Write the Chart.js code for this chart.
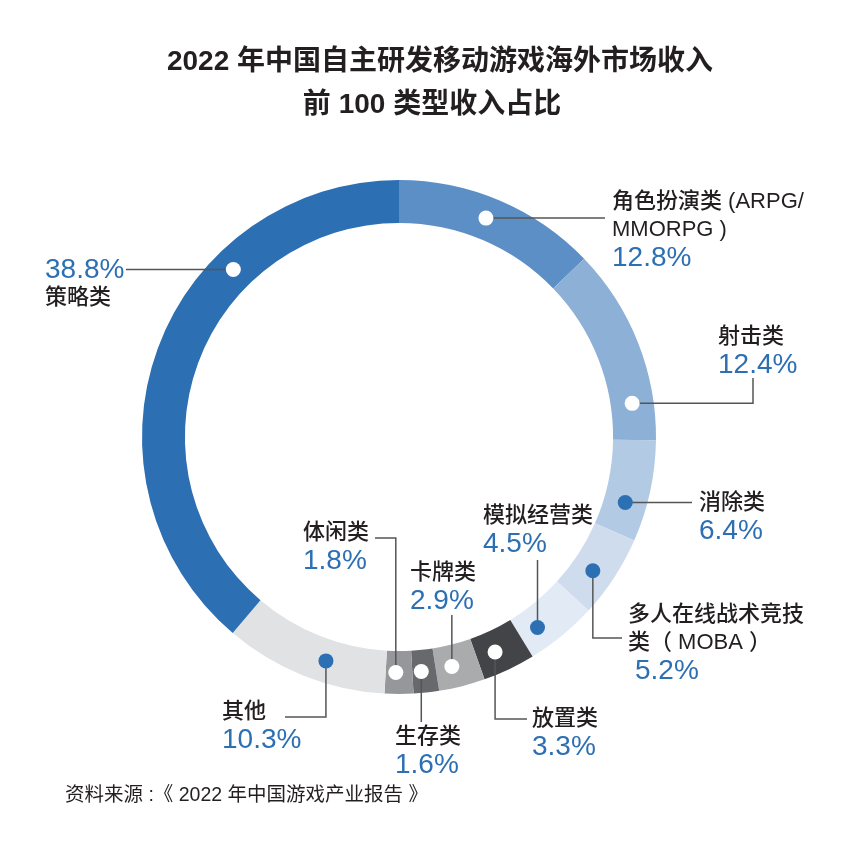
<!DOCTYPE html>
<html>
<head>
<meta charset="utf-8">
<script src="https://cdn.jsdelivr.net/npm/chart.js@4.4.1/dist/chart.umd.min.js"></script>
<style>
html,body{margin:0;padding:0;background:#fff;}
canvas{display:block;}
</style>
</head>
<body>
<canvas id="share_chart" width="849" height="852"></canvas>
<script>
// data
var categories = ['角色扮演类（ARPG/MMORPG）','射击类','消除类','多人在线战术竞技类（MOBA）','模拟经营类','放置类','卡牌类','生存类','体闲类','其他','策略类'];
var shares = [12.8, 12.4, 6.4, 5.2, 4.5, 3.3, 2.9, 1.6, 1.8, 10.3, 38.8];
var nameLines = [['角色扮演类 (ARPG/','MMORPG )'],['射击类'],['消除类'],['多人在线战术竞技','类（ MOBA ）'],['模拟经营类'],['放置类'],['卡牌类'],['生存类'],['体闲类'],['其他'],['策略类']];
var titleLines = ['2022 年中国自主研发移动游戏海外市场收入','前 100 类型收入占比'];
var sourceText = '资料来源 :《 2022 年中国游戏产业报告 》';

// styles
var segColors = ['#5b8fc5','#8cb0d6','#b2cae3','#cfdcee','#e2eaf5','#434447','#aaabad','#68696c','#96979a','#e1e2e4','#2d6fb3'];
var dotColors = ['#fff','#fff','#2d6fb3','#2d6fb3','#2d6fb3','#fff','#fff','#fff','#fff','#2d6fb3','#fff'];
var blue = '#2d6fb3', ink = '#231f20';
var cjk = '"Liberation Sans","Noto Sans CJK SC",sans-serif';

// callout layout: at = position along the arc (0..1), leader route, label anchor
var callouts = [
    {at:0.47, path:'h',  x:605, lx:612, ly:202},
    {at:0.80, path:'hv', x:753, y:378, lx:718, ly:337},
    {at:0.67, path:'h',  x:692, lx:699, ly:503},
    {at:0.58, path:'vh', x:622, y:638, lx:628, ly:615, indent:7},
    {at:0.71, path:'v',  y:560, lx:483, ly:516},
    {at:0.61, path:'vh', x:527, y:719, lx:532, ly:719},
    {at:0.62, path:'v',  y:615, lx:410, ly:573},
    {at:0.62, path:'v',  y:722, lx:395, ly:737},
    {at:0.62, path:'vh', x:375, y:538, lx:303, ly:533},
    {at:0.40, path:'vh', x:285, y:717, lx:222, ly:712},
    {at:0.68, path:'h',  x:126, lx:45, ly:270, pctFirst:true}
];

var calloutPlugin = {
    id: 'callouts',
    afterDatasetsDraw: function(chart){
        var ctx = chart.ctx;
        var meta = chart.getDatasetMeta(0);
        ctx.save();
        for(var i=0; i<meta.data.length; i++){
            var c = callouts[i];
            var p = meta.data[i].getProps(['x','y','startAngle','endAngle','innerRadius','outerRadius'], true);
            var a = p.startAngle + c.at*(p.endAngle-p.startAngle);
            var r = (p.innerRadius+p.outerRadius)/2;
            var dx = p.x + r*Math.cos(a), dy = p.y + r*Math.sin(a);

            ctx.strokeStyle = '#555';
            ctx.lineWidth = 1.5;
            ctx.beginPath();
            ctx.moveTo(dx, dy);
            if(c.path=='h') ctx.lineTo(c.x, dy);
            else if(c.path=='v') ctx.lineTo(dx, c.y);
            else if(c.path=='hv'){ ctx.lineTo(c.x, dy); ctx.lineTo(c.x, c.y); }
            else if(c.path=='vh'){ ctx.lineTo(dx, c.y); ctx.lineTo(c.x, c.y); }
            ctx.stroke();

            ctx.fillStyle = dotColors[i];
            ctx.beginPath();
            ctx.arc(dx, dy, 7.5, 0, Math.PI*2);
            ctx.fill();

            var lines = [];
            var pct = {text: shares[i].toFixed(1)+'%', font:'28px '+cjk, color:blue, dx:c.indent||0};
            if(c.pctFirst) lines.push(pct);
            nameLines[i].forEach(function(t){ lines.push({text:t, font:'500 22px '+cjk, color:ink, dx:0}); });
            if(!c.pctFirst) lines.push(pct);
            ctx.textAlign = 'left';
            ctx.textBaseline = 'middle';
            for(var k=0; k<lines.length; k++){
                ctx.font = lines[k].font;
                ctx.fillStyle = lines[k].color;
                ctx.fillText(lines[k].text, c.lx + lines[k].dx, c.ly + k*28);
            }
        }

        ctx.fillStyle = ink;
        ctx.textAlign = 'center';
        ctx.font = 'bold 28px '+cjk;
        ctx.fillText(titleLines[0], 440, 62);
        ctx.fillText(titleLines[1], 432, 105);
        ctx.textAlign = 'left';
        ctx.font = '19.5px '+cjk;
        ctx.fillText(sourceText, 65, 796);
        ctx.restore();
    }
};

new Chart(document.getElementById('share_chart').getContext('2d'), {
    type: 'doughnut',
    data: {
        labels: categories,
        datasets: [{
            data: shares,
            backgroundColor: segColors,
            borderWidth: 0
        }]
    },
    options: {
        responsive: false,
        animation: false,
        cutout: '83.3%',
        layout: {padding: {left:142, right:193, top:180, bottom:158}},
        plugins: {legend:{display:false}, tooltip:{enabled:false}}
    },
    plugins: [calloutPlugin]
});
</script>
</body>
</html>
